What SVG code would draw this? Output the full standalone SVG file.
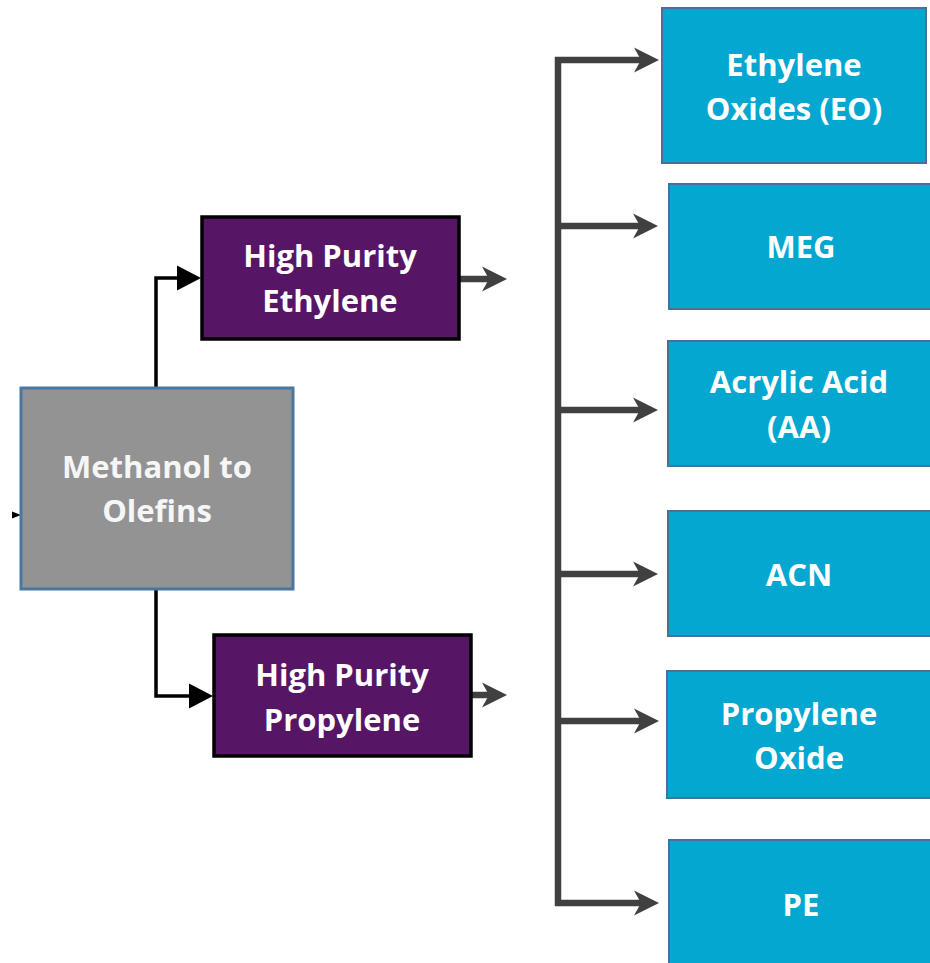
<svg xmlns="http://www.w3.org/2000/svg" width="930" height="963" viewBox="0 0 930 963">
<style>
.t{font-family:"Open Sans","Noto Sans","Liberation Sans",sans-serif;font-weight:bold;font-size:31px;fill:#ffffff;text-anchor:middle}
.blue{fill:#03a7cf;stroke:#4a6f9a;stroke-width:2}
.purple{fill:#561565;stroke:#000000;stroke-width:3.5}
.gray{fill:#939393;stroke:#4a76a2;stroke-width:3}
.blk{fill:none;stroke:#000000;stroke-width:3.5}
.dk{fill:none;stroke:#404040;stroke-width:6.5}
</style>
<defs>
<marker id="tri" markerUnits="userSpaceOnUse" markerWidth="26" markerHeight="26" refX="4" refY="13" orient="auto">
<path d="M0,0.5 L24,13 L0,25.5 z" fill="#000000"/>
</marker>
<marker id="chev" markerUnits="userSpaceOnUse" markerWidth="27" markerHeight="28" refX="10" refY="14" orient="auto">
<path d="M0,1.5 L25,14 L0,26.5 L7,14 z" fill="#404040"/>
</marker>
</defs>
<g id="connectors">
<polyline class="blk" points="156,387 156,278 181,278" marker-end="url(#tri)"/>
<polyline class="blk" points="156,589 156,696 193,696" marker-end="url(#tri)"/>
<path d="M12,511.5 L21,515 L12,518.5 z" fill="#000000"/>
<line class="dk" x1="459" y1="279" x2="492" y2="279" marker-end="url(#chev)"/>
<line class="dk" x1="471" y1="695" x2="492" y2="695" marker-end="url(#chev)"/>
<line class="dk" x1="558" y1="57" x2="558" y2="906"/>
<line class="dk" x1="555" y1="60" x2="644" y2="60" marker-end="url(#chev)"/>
<line class="dk" x1="555" y1="226" x2="643" y2="226" marker-end="url(#chev)"/>
<line class="dk" x1="555" y1="410" x2="643" y2="410" marker-end="url(#chev)"/>
<line class="dk" x1="555" y1="574" x2="643" y2="574" marker-end="url(#chev)"/>
<line class="dk" x1="555" y1="721" x2="644" y2="721" marker-end="url(#chev)"/>
<line class="dk" x1="555" y1="903" x2="644" y2="903" marker-end="url(#chev)"/>
</g>
<g id="mto">
<rect class="gray" x="21" y="388" width="272" height="201"/>
<text class="t" x="157" y="478" style="fill:#f6f6f6">Methanol to</text>
<text class="t" x="157" y="522" style="fill:#f6f6f6">Olefins</text>
</g>
<g id="ethylene">
<rect class="purple" x="202" y="217" width="257" height="122"/>
<text class="t" x="330" y="267">High Purity</text>
<text class="t" x="330" y="312">Ethylene</text>
</g>
<g id="propylene">
<rect class="purple" x="214" y="635" width="257" height="121"/>
<text class="t" x="342" y="686">High Purity</text>
<text class="t" x="342" y="731">Propylene</text>
</g>
<g id="eo">
<rect class="blue" x="662" y="8" width="264" height="155"/>
<text class="t" x="794" y="76">Ethylene</text>
<text class="t" x="794" y="120">Oxides (EO)</text>
</g>
<g id="meg">
<rect class="blue" x="669" y="184" width="265" height="125"/>
<text class="t" x="801" y="258">MEG</text>
</g>
<g id="aa">
<rect class="blue" x="668" y="341" width="266" height="125"/>
<text class="t" x="799" y="393">Acrylic Acid</text>
<text class="t" x="799" y="438">(AA)</text>
</g>
<g id="acn">
<rect class="blue" x="668" y="511" width="266" height="125"/>
<text class="t" x="799" y="586">ACN</text>
</g>
<g id="po">
<rect class="blue" x="667" y="671" width="267" height="127"/>
<text class="t" x="799" y="725">Propylene</text>
<text class="t" x="799" y="769">Oxide</text>
</g>
<g id="pe">
<rect class="blue" x="669" y="840" width="265" height="130"/>
<text class="t" x="801" y="916">PE</text>
</g>
</svg>
